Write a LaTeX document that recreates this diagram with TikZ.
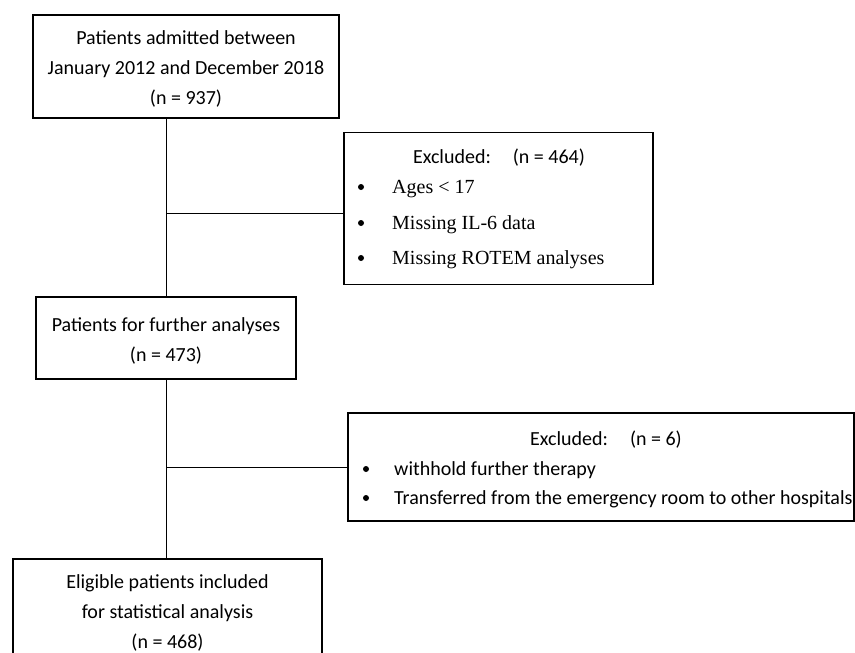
\documentclass[tikz,border=0pt]{standalone}
\usepackage{fontspec}
\setmainfont{Carlito}
\newfontfamily\itemfont{Liberation Serif}
\begin{document}
\begin{tikzpicture}[x=1pt,y=-1pt,
  box/.style={draw=black, line width=1.8pt, inner sep=0pt},
  btext/.style={inner sep=0pt, align=center, font=\fontsize{20}{30}\selectfont},
  conn/.style={draw=black, line width=1pt},
  head/.style={font=\fontsize{20}{24}\selectfont, inner sep=0pt, anchor=base},
  item/.style={font=\itemfont\fontsize{20}{24}\selectfont, inner sep=0pt, anchor=base west},
  citem/.style={font=\fontsize{20}{24}\selectfont, inner sep=0pt, anchor=base west},
  bul/.style={circle, fill=black, inner sep=0pt, minimum size=6pt}
]
\useasboundingbox (0,0) rectangle (855,653);
\clip (0,0) rectangle (855,653);

% main boxes
\node[box, minimum width=306pt, minimum height=103pt] (b1) at (186,66.5) {};
\node[btext] (t1) at (186,68.5)
  {Patients admitted between\\January 2012 and December 2018\\(n = 937)};
\node[box, minimum width=260pt, minimum height=82pt] (b2) at (166,338) {};
\node[btext] (t2) at (166,340.5)
  {Patients for further analyses\\(n = 473)};
\node[box, minimum width=309pt, minimum height=106pt] (b3) at (167.5,612) {};
\node[btext] (t3) at (167.5,613)
  {Eligible patients included\\for statistical analysis\\(n = 468)};

% exclusion boxes
\node[box, minimum width=309pt, minimum height=152pt] (e1) at (498.5,208.5) {};
\node[box, minimum width=506pt, minimum height=108pt] (e2) at (601,467) {};

% exclusion 1 text
\node[head] (e1h) at (499,163) {Excluded:\hspace{22pt}(n = 464)};
\node[bul] (e1b1) at (361,187) {};
\node[bul] (e1b2) at (361,223) {};
\node[bul] (e1b3) at (361,258) {};
\node[item] (e1i1) at (392,193) {Ages < 17};
\node[item] (e1i2) at (392,229) {Missing IL-6 data};
\node[item] (e1i3) at (392,264) {Missing ROTEM analyses};

% exclusion 2 text
\node[head] (e2h) at (606,445) {Excluded:\hspace{22pt}(n = 6)};
\node[bul] (e2b1) at (366,469) {};
\node[bul] (e2b2) at (366,498) {};
\node[citem] (e2i1) at (394,475) {withhold further therapy};
\node[citem] (e2i2) at (394,504) {Transferred from the emergency room to other hospitals};

% connectors
\coordinate (j1) at (167,213);
\coordinate (j2) at (167,467);
\draw[conn] (b2.north |- b1.south) -- (b2.north);
\draw[conn] (j1) -- (e1.west |- j1);
\draw[conn] (b2.south) -- (b2.south |- b3.north);
\draw[conn] (j2) -- (e2.west |- j2);
\end{tikzpicture}
\end{document}
